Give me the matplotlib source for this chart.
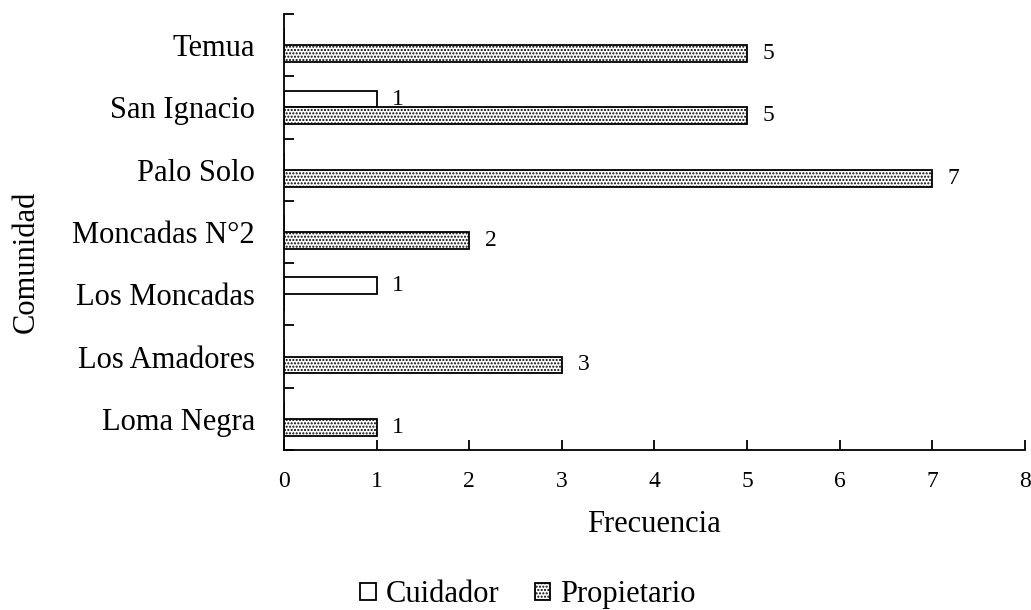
import matplotlib
matplotlib.use("Agg")
import matplotlib.pyplot as plt
import numpy as np

plt.rcParams['font.family'] = ['Liberation Serif', 'DejaVu Serif']
plt.rcParams['hatch.linewidth'] = 1.0

categories = ["Loma Negra", "Los Amadores", "Los Moncadas", "Moncadas N°2",
              "Palo Solo", "San Ignacio", "Temua"]
cuidador = [0, 0, 1, 0, 0, 1, 0]
propietario = [1, 3, 0, 2, 7, 5, 5]
xticks = list(range(0, 9))

fig = plt.figure(figsize=(10.31, 6.10), dpi=100)
ax = fig.add_axes([0.2755, 0.2623, 0.7185, 0.7147])

y = np.arange(len(categories))
h = 0.27
b1 = ax.barh(y + h / 2, cuidador, height=h, color='white', edgecolor='black',
             linewidth=1.3, label='Cuidador')
b2 = ax.barh(y - h / 2, propietario, height=h, color='white', edgecolor='black',
             hatch='.....', linewidth=1.3, label='Propietario')

for bars, vals in ((b1, cuidador), (b2, propietario)):
    for bar, v in zip(bars, vals):
        if v > 0:
            ax.text(v + 0.17, bar.get_y() + bar.get_height() / 2, str(v),
                    va='center', ha='left', fontsize=17)

ax.set_xlim(0, 8)
ax.set_ylim(-0.5, len(categories) - 0.5)
ax.set_xticks(xticks)
ax.set_xticklabels([str(t) for t in xticks], fontsize=17)
ax.tick_params(axis='x', direction='in', length=7, width=1.3, pad=15)

ax.set_yticks(y)
ax.set_yticklabels(categories, fontsize=22)
ax.tick_params(axis='y', which='major', length=0, pad=21)
ax.set_yticks(np.arange(-0.5, len(categories)), minor=True)
ax.tick_params(axis='y', which='minor', direction='in', length=7, width=1.3)

for s in ('top', 'right'):
    ax.spines[s].set_visible(False)
for s in ('left', 'bottom'):
    ax.spines[s].set_linewidth(1.3)

ax.set_xlabel('Frecuencia', fontsize=22, labelpad=13)
ax.set_ylabel('Comunidad', fontsize=22)
ax.yaxis.set_label_coords(-0.329, 0.431)

fig.legend(handles=[b1, b2], labels=['Cuidador', 'Propietario'], loc='center',
           bbox_to_anchor=(0.512, 0.025), ncol=2, frameon=False, fontsize=22,
           handlelength=0.5, handleheight=0.5, handletextpad=0.33, columnspacing=1.15)

fig.savefig('out.png', dpi=100)
